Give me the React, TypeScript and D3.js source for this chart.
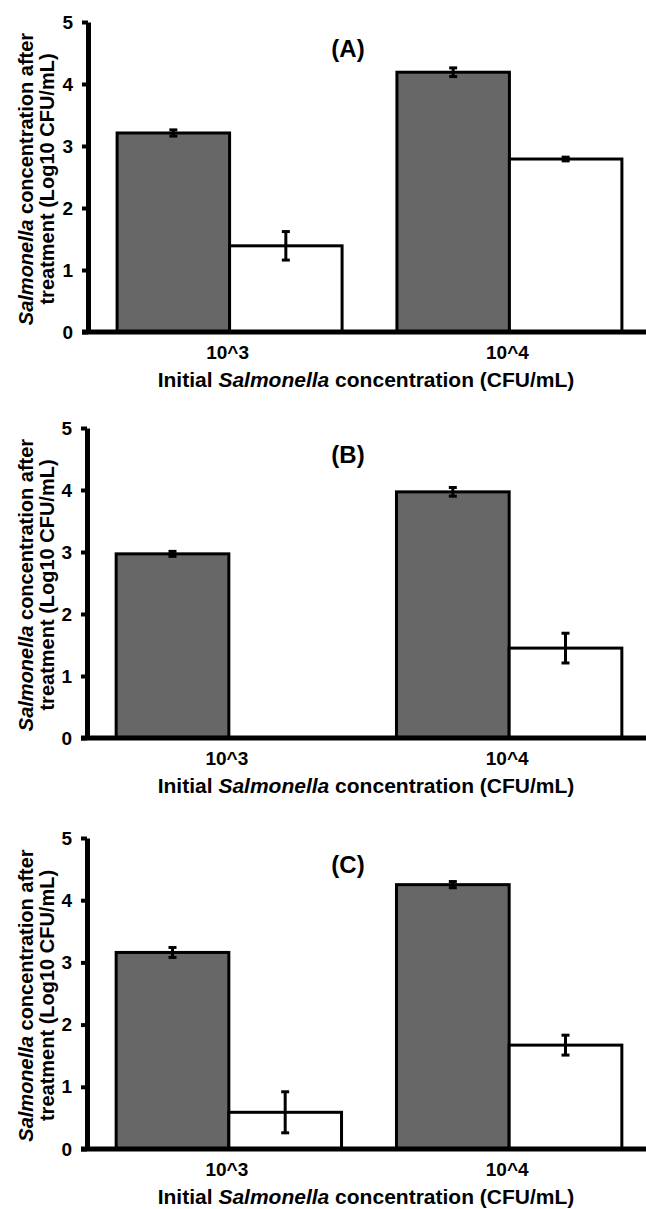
import React, { useEffect, useRef } from 'react'
import * as d3 from 'd3'

// categories on the x axis
const categories = ['10^3', '10^4']
const yTicks = [0, 1, 2, 3, 4, 5]

// panel A
const grayA = [3.21, 4.19]
const grayErrA = [0.05, 0.07]
const whiteA = [1.39, 2.79]
const whiteErrA = [0.23, 0.03]

// panel B
const grayB = [2.97, 3.97]
const grayErrB = [0.04, 0.07]
const whiteB = [0, 1.45]
const whiteErrB = [0, 0.24]

// panel C
const grayC = [3.16, 4.25]
const grayErrC = [0.08, 0.05]
const whiteC = [0.59, 1.67]
const whiteErrC = [0.33, 0.16]

const panels = [
  { label: '(A)', gray: grayA, grayErr: grayErrA, white: whiteA, whiteErr: whiteErrA, axisX: 88, top: 22, bottom: 332 },
  { label: '(B)', gray: grayB, grayErr: grayErrB, white: whiteB, whiteErr: whiteErrB, axisX: 87, top: 428, bottom: 738 },
  { label: '(C)', gray: grayC, grayErr: grayErrC, white: whiteC, whiteErr: whiteErrC, axisX: 87, top: 838, bottom: 1149 },
]

const FONT = '"Liberation Sans", Arial, sans-serif'

const App = () => {
  const ref = useRef(null)

  useEffect(() => {
    const svg = d3.select(ref.current)
    svg.selectAll('*').remove()

    panels.forEach((p) => {
      const g = svg.append('g')

      const yScale = d3.scaleLinear().domain([0, 5]).range([p.bottom, p.top])
      const xScale = d3
        .scaleBand()
        .domain(categories)
        .range([p.axisX, 651])
        .paddingInner(0.196)
        .paddingOuter(0.104)
      const sub = d3.scaleBand().domain(['gray', 'white']).range([0, xScale.bandwidth()])

      const rows = categories.map((c, i) => ({
        cat: c,
        gray: p.gray[i],
        grayErr: p.grayErr[i],
        white: p.white[i],
        whiteErr: p.whiteErr[i],
      }))

      // bars
      rows.forEach((d) => {
        const x0 = xScale(d.cat)
        g.append('rect')
          .attr('x', x0 + sub('gray'))
          .attr('y', yScale(d.gray))
          .attr('width', sub.bandwidth())
          .attr('height', yScale(0) - yScale(d.gray))
          .attr('fill', '#676767')
          .attr('stroke', '#000')
          .attr('stroke-width', 3)
        if (d.white > 0) {
          g.append('rect')
            .attr('x', x0 + sub('white'))
            .attr('y', yScale(d.white))
            .attr('width', sub.bandwidth())
            .attr('height', yScale(0) - yScale(d.white))
            .attr('fill', '#fff')
            .attr('stroke', '#000')
            .attr('stroke-width', 3)
        }
        // error bars
        const errs = [
          { v: d.gray, e: d.grayErr, key: 'gray' },
          { v: d.white, e: d.whiteErr, key: 'white' },
        ]
        errs.forEach((er) => {
          if (er.v <= 0) return
          const cx = x0 + sub(er.key) + sub.bandwidth() / 2
          const y1 = yScale(er.v + er.e)
          const y2 = yScale(er.v - er.e)
          g.append('line')
            .attr('x1', cx).attr('x2', cx)
            .attr('y1', y1).attr('y2', y2)
            .attr('stroke', '#000').attr('stroke-width', 3)
          ;[y1, y2].forEach((yy) => {
            g.append('line')
              .attr('x1', cx - 4).attr('x2', cx + 4)
              .attr('y1', yy).attr('y2', yy)
              .attr('stroke', '#000').attr('stroke-width', 3)
          })
        })
      })

      // y axis
      const yAxis = g
        .append('g')
        .attr('transform', `translate(${p.axisX},0)`)
        .call(
          d3
            .axisLeft(yScale)
            .tickValues(yTicks)
            .tickFormat(d3.format('d'))
            .tickSize(6)
            .tickSizeOuter(0)
            .tickPadding(9)
        )
      yAxis.select('.domain').attr('stroke', '#000').attr('stroke-width', 5)
      yAxis.selectAll('.tick line').attr('stroke', '#000').attr('stroke-width', 4)
      yAxis
        .selectAll('.tick text')
        .attr('font-family', FONT)
        .attr('font-size', 19)
        .attr('font-weight', 'bold')
        .attr('fill', '#000')

      // x axis line
      g.append('line')
        .attr('x1', p.axisX - 6)
        .attr('x2', 646)
        .attr('y1', yScale(0))
        .attr('y2', yScale(0))
        .attr('stroke', '#000')
        .attr('stroke-width', 5)

      // category labels
      categories.forEach((c) => {
        g.append('text')
          .attr('x', xScale(c) + xScale.bandwidth() / 2 - 2)
          .attr('y', yScale(0) + 27)
          .attr('text-anchor', 'middle')
          .attr('font-family', FONT)
          .attr('font-size', 19)
          .attr('font-weight', 'bold')
          .text(c)
      })

      // x axis title
      const xt = g
        .append('text')
        .attr('x', 366)
        .attr('y', yScale(0) + 55)
        .attr('text-anchor', 'middle')
        .attr('font-family', FONT)
        .attr('font-size', 21)
        .attr('font-weight', 'bold')
      xt.append('tspan').text('Initial ')
      xt.append('tspan').attr('font-style', 'italic').text('Salmonella')
      xt.append('tspan').text(' concentration (CFU/mL)')

      // y axis title (two lines)
      const cy = (p.top + p.bottom) / 2 + 2
      const yt1 = g
        .append('text')
        .attr('transform', `translate(33,${cy}) rotate(-90)`)
        .attr('text-anchor', 'middle')
        .attr('font-family', FONT)
        .attr('font-size', 20)
        .attr('font-weight', 'bold')
      yt1.append('tspan').attr('font-style', 'italic').text('Salmonella')
      yt1.append('tspan').text(' concentration after')
      g.append('text')
        .attr('transform', `translate(54,${cy}) rotate(-90)`)
        .attr('text-anchor', 'middle')
        .attr('font-family', FONT)
        .attr('font-size', 20)
        .attr('font-weight', 'bold')
        .text('treatment (Log10 CFU/mL)')

      // panel label
      g.append('text')
        .attr('x', 348)
        .attr('y', p.top + 35)
        .attr('text-anchor', 'middle')
        .attr('font-family', FONT)
        .attr('font-size', 24)
        .attr('font-weight', 'bold')
        .text(p.label)
    })
  }, [])

  return (
    <svg
      ref={ref}
      width={646}
      height={1209}
      style={{ position: 'absolute', left: 0, top: 0, background: '#fff' }}
    />
  )
}

export default App
